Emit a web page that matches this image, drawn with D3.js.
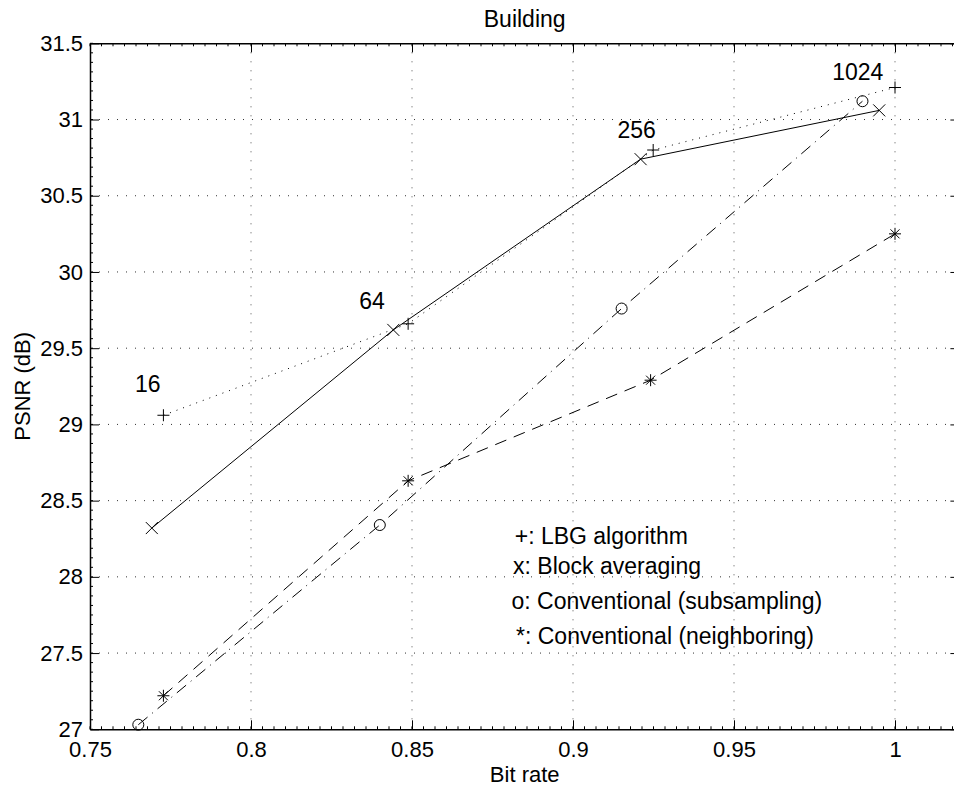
<!DOCTYPE html>
<html>
<head>
<meta charset="utf-8">
<script src="https://cdn.jsdelivr.net/npm/d3@7"></script>
<style>
  body { margin: 0; background: #fff; }
  text { font-family: "Liberation Sans", Arial, Helvetica, sans-serif; fill: #000; }
</style>
</head>
<body>
<svg id="chart" width="954" height="791"></svg>
<script>
// Codebook sizes annotated along the LBG curve
const codebookSizes = ["16", "64", "256", "1024"];

// LBG algorithm (+, dotted)
const lbgRate = [0.7728, 0.8488, 0.9249, 1.0];
const lbgPsnr = [29.06, 29.66, 30.80, 31.21];

// Block averaging (x, solid)
const blockRate = [0.7692, 0.8442, 0.9210, 0.9951];
const blockPsnr = [28.32, 29.62, 30.74, 31.06];

// Conventional, subsampling (o, dash-dot)
const subRate = [0.7650, 0.8400, 0.9151, 0.9899];
const subPsnr = [27.03, 28.34, 29.76, 31.12];

// Conventional, neighboring (*, dashed)
const neighRate = [0.7728, 0.8488, 0.9241, 1.0];
const neighPsnr = [27.22, 28.63, 29.29, 30.25];

// Where the codebook-size annotations sit, in data units
const sizeLabelRate = [0.7640, 0.8336, 0.9138, 0.9805];
const sizeLabelPsnr = [29.215, 29.76, 30.88, 31.26];

// Axis ticks
const xTicks = [0.75, 0.8, 0.85, 0.9, 0.95, 1];
const yTicks = [27, 27.5, 28, 28.5, 29, 29.5, 30, 30.5, 31, 31.5];

// Key text, placed in data units like the other annotations
const legendLines = ["+: LBG algorithm", "x: Block averaging", "o: Conventional (subsampling)", "*: Conventional (neighboring)"];
const legendRate = [0.8819, 0.8814, 0.8809, 0.8823];
const legendPsnr = [28.216, 28.019, 27.789, 27.560];

const svg = d3.select("#chart");
const plotLeft = 90, plotRight = 959.4, plotTop = 43.3, plotBottom = 729.3;

const x = d3.scaleLinear().domain([0.75, 1.02]).range([plotLeft, plotRight]);
const y = d3.scaleLinear().domain([27, 31.5]).range([plotBottom, plotTop]);

// Dotted grid at the major ticks
const grid = svg.append("g");
grid.selectAll("line.gx").data(xTicks.slice(1)).join("line")
  .attr("x1", d => x(d)).attr("x2", d => x(d))
  .attr("y1", plotTop).attr("y2", plotBottom)
  .attr("stroke", "#555").attr("stroke-width", 1).attr("stroke-dasharray", "1,8");
grid.selectAll("line.gy").data(yTicks.slice(1, -1)).join("line")
  .attr("x1", plotLeft).attr("x2", plotRight)
  .attr("y1", d => y(d)).attr("y2", d => y(d))
  .attr("stroke", "#333").attr("stroke-width", 1).attr("stroke-dasharray", "1,8");

// Minor ticks along the frame
const xMinor = d3.range(0.75, 1.0201, 0.05 / 14);
const yMinor = d3.range(27, 31.501, 0.5 / 8);
const minor = svg.append("g").attr("stroke", "#000").attr("stroke-width", 1);
minor.selectAll("line.mb").data(xMinor).join("line")
  .attr("x1", d => x(d)).attr("x2", d => x(d)).attr("y1", plotBottom).attr("y2", plotBottom - 3);
minor.selectAll("line.mt").data(xMinor).join("line")
  .attr("x1", d => x(d)).attr("x2", d => x(d)).attr("y1", plotTop).attr("y2", plotTop + 3);
minor.selectAll("line.ml").data(yMinor).join("line")
  .attr("x1", plotLeft).attr("x2", plotLeft + 3).attr("y1", d => y(d)).attr("y2", d => y(d));
minor.selectAll("line.mr").data(yMinor).join("line")
  .attr("x1", plotRight).attr("x2", plotRight - 3).attr("y1", d => y(d)).attr("y2", d => y(d));

const fmt = d => String(d);

// Axes with inward ticks
const xAxis = svg.append("g").attr("transform", `translate(0,${plotBottom})`)
  .call(d3.axisBottom(x).tickValues(xTicks).tickFormat(fmt).tickSizeInner(-9).tickSizeOuter(0).tickPadding(12));
const xAxisTop = svg.append("g").attr("transform", `translate(0,${plotTop})`)
  .call(d3.axisTop(x).tickValues(xTicks).tickFormat("").tickSizeInner(-9).tickSizeOuter(0));
const yAxis = svg.append("g").attr("transform", `translate(${plotLeft},0)`)
  .call(d3.axisLeft(y).tickValues(yTicks).tickFormat(fmt).tickSizeInner(-9).tickSizeOuter(0).tickPadding(7));
const yAxisRight = svg.append("g").attr("transform", `translate(${plotRight},0)`)
  .call(d3.axisRight(y).tickValues(yTicks).tickFormat("").tickSizeInner(-9).tickSizeOuter(0));

[xAxis, xAxisTop, yAxis, yAxisRight].forEach(g => {
  g.select(".domain").attr("stroke", "#000").attr("stroke-width", 1.5);
  g.selectAll(".tick line").attr("stroke", "#000").attr("stroke-width", 1);
  g.selectAll(".tick text").attr("font-size", 22).attr("fill", "#000")
    .attr("font-family", "Liberation Sans, Arial, Helvetica, sans-serif");
});

// Series
const series = [
  { rate: lbgRate, psnr: lbgPsnr, dash: "1,6", marker: "plus" },
  { rate: blockRate, psnr: blockPsnr, dash: null, marker: "cross" },
  { rate: subRate, psnr: subPsnr, dash: "12,6,1,6", marker: "circle" },
  { rate: neighRate, psnr: neighPsnr, dash: "12,8", marker: "star" }
];

const line = d3.line().x(d => x(d[0])).y(d => y(d[1]));
const s = 6;
const markerPath = {
  plus: `M${-s},0H${s}M0,${-s}V${s}`,
  cross: `M${-s},${-s}L${s},${s}M${-s},${s}L${s},${-s}`,
  star: `M${-s},0H${s}M0,${-s}V${s}M${-s * 0.75},${-s * 0.75}L${s * 0.75},${s * 0.75}M${-s * 0.75},${s * 0.75}L${s * 0.75},${-s * 0.75}`
};

series.forEach(ser => {
  const pts = ser.rate.map((r, i) => [r, ser.psnr[i]]);
  svg.append("path").datum(pts)
    .attr("d", line)
    .attr("fill", "none").attr("stroke", "#000").attr("stroke-width", 1)
    .attr("stroke-dasharray", ser.dash);
  const g = svg.append("g");
  if (ser.marker === "circle") {
    g.selectAll("circle").data(pts).join("circle")
      .attr("cx", d => x(d[0])).attr("cy", d => y(d[1])).attr("r", 5.5)
      .attr("fill", "none").attr("stroke", "#000").attr("stroke-width", 1);
  } else {
    g.selectAll("path").data(pts).join("path")
      .attr("transform", d => `translate(${x(d[0])},${y(d[1])})`)
      .attr("d", markerPath[ser.marker])
      .attr("fill", "none").attr("stroke", "#000").attr("stroke-width", 1);
  }
});

// Codebook size annotations
svg.append("g").selectAll("text").data(codebookSizes).join("text")
  .attr("x", (d, i) => x(sizeLabelRate[i]))
  .attr("y", (d, i) => y(sizeLabelPsnr[i]))
  .attr("font-size", 23)
  .text(d => d);

// Key
svg.append("g").selectAll("text").data(legendLines).join("text")
  .attr("x", (d, i) => x(legendRate[i]))
  .attr("y", (d, i) => y(legendPsnr[i]))
  .attr("font-size", 23)
  .text(d => d);

// Title and axis labels
svg.append("text").attr("x", (plotLeft + plotRight) / 2).attr("y", 27)
  .attr("text-anchor", "middle").attr("font-size", 23).text("Building");
svg.append("text").attr("x", (plotLeft + plotRight) / 2).attr("y", 782)
  .attr("text-anchor", "middle").attr("font-size", 22).text("Bit rate");
svg.append("text")
  .attr("transform", `translate(30,${(plotTop + plotBottom) / 2}) rotate(-90)`)
  .attr("text-anchor", "middle").attr("font-size", 22).text("PSNR (dB)");
</script>
</body>
</html>
